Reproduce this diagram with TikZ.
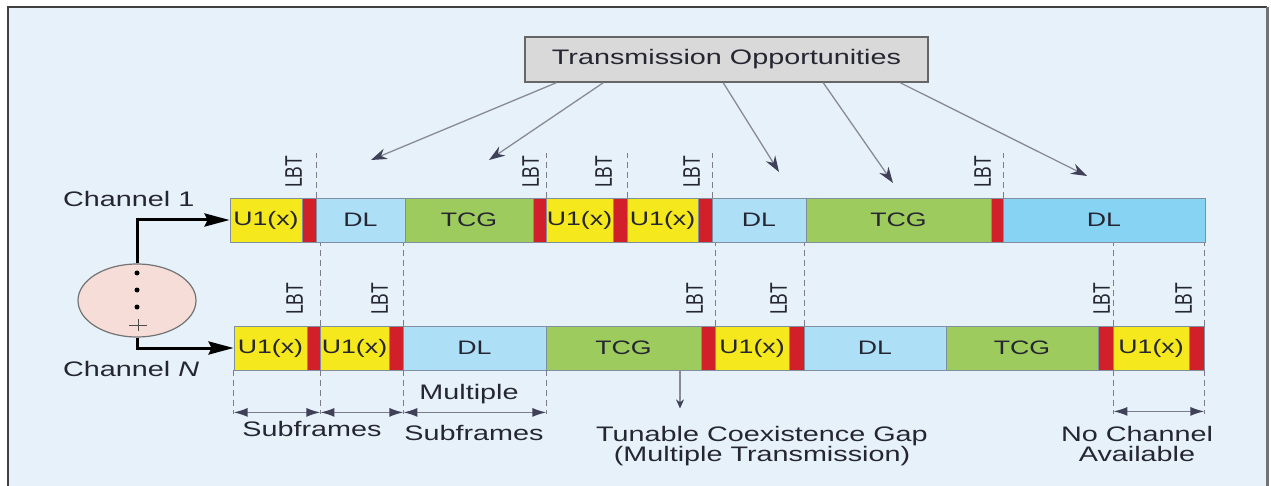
\documentclass[tikz,border=0pt]{standalone}
\usepackage{fontspec}
\setmainfont{Liberation Sans}
\usepackage{graphicx}
\usetikzlibrary{arrows.meta,shapes.geometric}
\definecolor{bgc}{HTML}{E6F1FA}
\definecolor{yel}{HTML}{F5E81C}
\definecolor{redb}{HTML}{D2202A}
\definecolor{dlc}{HTML}{ADDFF7}
\definecolor{dlb}{HTML}{86D3F4}
\definecolor{grn}{HTML}{9DCB5D}
\definecolor{segline}{HTML}{7F8FA0}
\definecolor{txt}{HTML}{262632}
\definecolor{guidec}{HTML}{7C7C8C}
\definecolor{tipc}{HTML}{404058}
\definecolor{oppl}{HTML}{8A8A96}
\newcommand\hs[1]{\scalebox{1.37}[1]{#1}}
\newcommand\mkseg[6]{\node[segbox,fill=#5,minimum width={#3-#2}] (#1) at ({(#2+#3)/2},#4) {#6};}
\begin{document}
\begin{tikzpicture}[x=1pt,y=-1pt,
  segbox/.style={draw=segline,line width=0.8pt,minimum height=44pt,inner sep=0pt,
    font=\fontsize{19.5}{20}\selectfont,text=txt},
  lbt/.style={rotate=90,inner sep=0pt,anchor=south west,text=txt,font=\fontsize{17.5}{17}\selectfont},
  lab/.style={inner sep=0pt,text=txt,font=\fontsize{21}{20}\selectfont},
  guide/.style={draw=guidec,line width=1.5pt,dash pattern=on 6pt off 4pt},
  dim/.style={draw=guidec,line width=1.5pt,{Latex[length=14pt,width=9pt,color=tipc]}-{Latex[length=14pt,width=9pt,color=tipc]}},
  opp/.style={draw=oppl,line width=1.3pt,-{Stealth[length=16pt,width=11pt,color=tipc]}},
  chan/.style={draw=black,line width=3pt,-{Stealth[length=25pt,width=13pt,inset=3pt]}},
  tobox/.style={draw=black!60,fill=black!15,line width=1.5pt,minimum width=403pt,minimum height=45pt,
    inner sep=0pt,text=txt,font=\fontsize{21}{20}\selectfont}]
\useasboundingbox (0,0) rectangle (1271,486);
\fill[white] (0,0) rectangle (1271,486);
\fill[bgc] (8,7) rectangle (1267,486);
\draw[black!75,line width=2pt] (8,486) -- (8,7) -- (1267,7);
\draw[black!55,line width=3pt] (1267,7) -- (1267,486);

% Transmission opportunities
\node[tobox] (to) at (726.5,59.5) {\hs{Transmission Opportunities}};
\coordinate (e1) at (371,160);
\coordinate (e2) at (489,160);
\coordinate (e3) at (779,172);
\coordinate (e4) at (893,183);
\coordinate (e5) at (1087,176);
\draw[opp] ([xshift=32pt]to.south west) -- (e1);
\draw[opp] ([xshift=79pt]to.south west) -- (e2);
\draw[opp] ([xshift=199pt]to.south west) -- (e3);
\draw[opp] ([xshift=299pt]to.south west) -- (e4);
\draw[opp] ([xshift=376pt]to.south west) -- (e5);

% Channel 1
\mkseg{c1a}{230}{302}{220}{yel}{\hs{U1(x)}}
\mkseg{c1ar}{302}{316}{220}{redb}{}
\mkseg{c1b}{316}{405}{220}{dlc}{\hs{DL}}
\mkseg{c1c}{405}{533}{220}{grn}{\hs{TCG}}
\mkseg{c1cr}{533}{546}{220}{redb}{}
\mkseg{c1d}{546}{613}{220}{yel}{\hs{U1(x)}}
\mkseg{c1dr}{613}{627}{220}{redb}{}
\mkseg{c1e}{627}{698}{220}{yel}{\hs{U1(x)}}
\mkseg{c1er}{698}{712}{220}{redb}{}
\mkseg{c1f}{712}{806}{220}{dlc}{\hs{DL}}
\mkseg{c1g}{806}{991}{220}{grn}{\hs{TCG}}
\mkseg{c1gr}{991}{1003}{220}{redb}{}
\mkseg{c1h}{1003}{1205}{220}{dlb}{\hs{DL}}

% Channel N
\mkseg{na}{234}{307}{348}{yel}{\hs{U1(x)}}
\mkseg{nar}{307}{320}{348}{redb}{}
\mkseg{nb}{320}{389}{348}{yel}{\hs{U1(x)}}
\mkseg{nbr}{389}{403}{348}{redb}{}
\mkseg{nc}{403}{546}{348}{dlc}{\hs{DL}}
\mkseg{nd}{546}{701}{348}{grn}{\hs{TCG}}
\mkseg{ndr}{701}{715}{348}{redb}{}
\mkseg{ne}{715}{789}{348}{yel}{\hs{U1(x)}}
\mkseg{ner}{789}{804}{348}{redb}{}
\mkseg{nf}{804}{946}{348}{dlc}{\hs{DL}}
\mkseg{ng}{946}{1098}{348}{grn}{\hs{TCG}}
\mkseg{ngr}{1098}{1113}{348}{redb}{}
\mkseg{nh}{1113}{1189}{348}{yel}{\hs{U1(x)}}
\mkseg{nhr}{1189}{1204}{348}{redb}{}

% guides above channel 1
\foreach \n in {c1ar,c1cr,c1dr,c1er,c1gr}
  \draw[guide] (\n.north east) -- ++(0,-45);
% guides between rows
\foreach \n in {nar,nbr,ndr,ner,ngr,nhr}
  \draw[guide] (\n.north east) -- ++(0,-83);
% guides below channel N
\draw[guide] (na.south west) -- ++(0,44);
\foreach \n in {nar,nbr,nc,ngr,nhr}
  \draw[guide] (\n.south east) -- ++(0,44);

% LBT labels
\node[lbt] (l1) at (302,188) {\scalebox{1}[1.37]{LBT}};
\node[lbt] (l2) at (539,188) {\scalebox{1}[1.37]{LBT}};
\node[lbt] (l3) at (612,188) {\scalebox{1}[1.37]{LBT}};
\node[lbt] (l4) at (700,188) {\scalebox{1}[1.37]{LBT}};
\node[lbt] (l5) at (991,188) {\scalebox{1}[1.37]{LBT}};
\node[lbt] (l6) at (303,315) {\scalebox{1}[1.37]{LBT}};
\node[lbt] (l7) at (388,315) {\scalebox{1}[1.37]{LBT}};
\node[lbt] (l8) at (703,315) {\scalebox{1}[1.37]{LBT}};
\node[lbt] (l9) at (787,315) {\scalebox{1}[1.37]{LBT}};
\node[lbt] (l10) at (1110,315) {\scalebox{1}[1.37]{LBT}};
\node[lbt] (l11) at (1192,315) {\scalebox{1}[1.37]{LBT}};

% dimension arrows
\draw[dim] ([yshift=-42pt]na.south west) -- ([yshift=-42pt]nar.south east);
\draw[dim] ([yshift=-42pt]nar.south east) -- ([yshift=-42pt]nbr.south east);
\draw[dim] ([yshift=-42pt]nbr.south east) -- ([yshift=-42pt]nc.south east);
\draw[dim] ([yshift=-41pt]ngr.south east) -- ([yshift=-41pt]nhr.south east);
\draw[draw=oppl,line width=1.3pt,-{Stealth[length=9pt,width=8pt,color=tipc]}] ([xshift=56.5pt]nd.south) -- ++(0,38);

% bottom labels
\node[lab,anchor=base] (sf1) at (312,436.5) {\hs{Subframes}};
\node[lab,anchor=base] (mu) at (469,399.5) {\hs{Multiple}};
\node[lab,anchor=base] (sf2) at (474,440.5) {\hs{Subframes}};
\node[lab,anchor=north,align=center] (tcgl) at (762,426) {\hs{Tunable Coexistence Gap}\\\hs{(Multiple Transmission)}};
\node[lab,anchor=north,align=center] (nca) at (1137,426) {\hs{No Channel}\\\hs{Available}};

% channel hub
\node[ellipse,draw=black!55,fill={rgb,255:red,246;green,221;blue,216},line width=1.2pt,
  minimum width=118pt,minimum height=73pt,inner sep=0pt] (hub) at (137,300.5) {};
\fill (137,273) circle (2.5pt);
\fill (137,290) circle (2.5pt);
\fill (137,307) circle (2.5pt);
\draw[black!70,line width=1pt] (129,325) -- (147,325) (138,319) -- (138,331);
\draw[chan] (hub.north) |- (c1a.west);
\draw[chan] (hub.south) |- (na.west);
\node[lab,anchor=west] (ch1) at (63,199) {\hs{Channel 1}};
\node[lab,anchor=west] (chn) at (63,368.5) {\hs{Channel \textit{N}}};
\end{tikzpicture}
\end{document}
